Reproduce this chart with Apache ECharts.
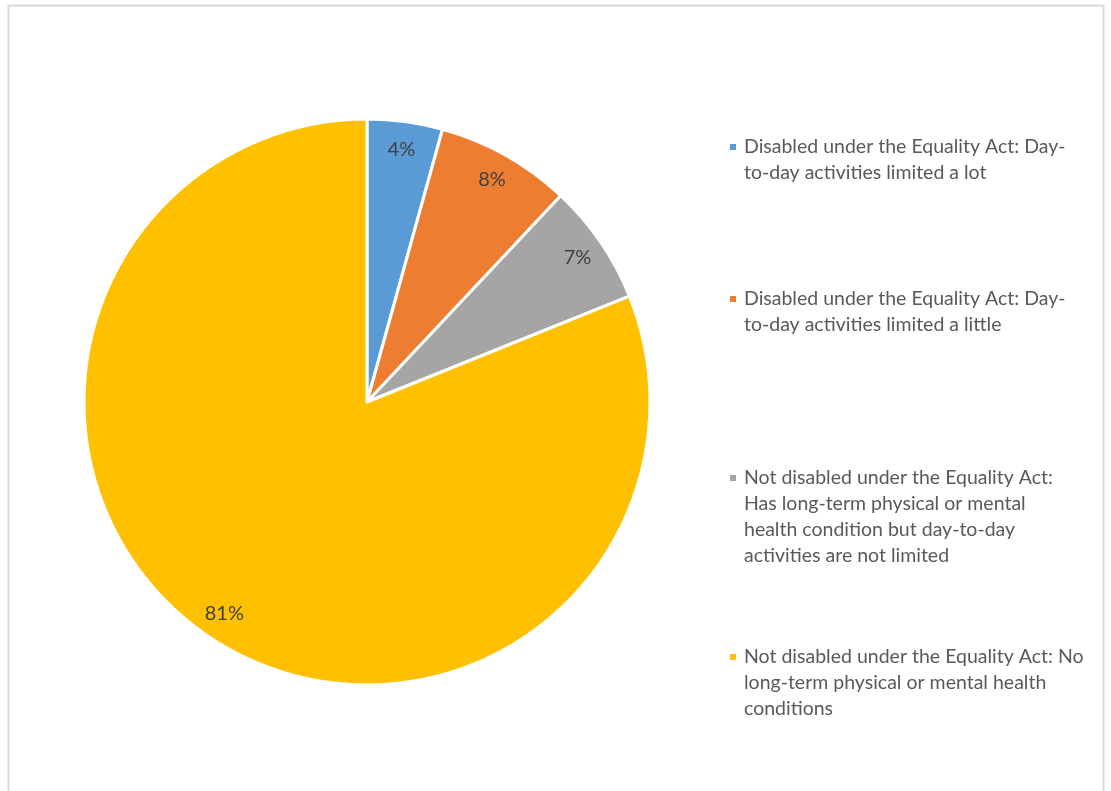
<!DOCTYPE html>
<html><head><meta charset="utf-8">
<script src="https://cdn.jsdelivr.net/npm/echarts@6/dist/echarts.min.js"></script>
<style>html,body{margin:0;padding:0;background:#fff}#c{width:1111px;height:791px}</style>
</head><body><div id="c"></div>
<script>
const categories = [
  'Disabled under the Equality Act: Day-to-day activities limited a lot',
  'Disabled under the Equality Act: Day-to-day activities limited a little',
  'Not disabled under the Equality Act: Has long-term physical or mental health condition but day-to-day activities are not limited',
  'Not disabled under the Equality Act: No long-term physical or mental health conditions'
];
const legendLabels = [
  'Disabled under the Equality Act: Day-\nto-day activities limited a lot',
  'Disabled under the Equality Act: Day-\nto-day activities limited a little',
  'Not disabled under the Equality Act:\nHas long-term physical or mental\nhealth condition but day-to-day\nactivities are not limited',
  'Not disabled under the Equality Act: No\nlong-term physical or mental health\nconditions'
];
const values = [4.3, 7.7, 6.9, 81.1];
const colors = ['#5B9BD5', '#ED7D31', '#A5A5A5', '#FFC000'];

const chart = echarts.init(document.getElementById('c'), null, {renderer: 'canvas'});
const data = categories.map((n, i) => ({name: n, value: values[i], itemStyle: {color: colors[i]}}));
const LH = 26;
const legendTops = [133, 285, 464, 643];
const legends = categories.map((n, i) => {
  const lines = legendLabels[i].split('\n').length;
  const h = lines * LH;
  return {
    data: [n],
    orient: 'vertical',
    left: 728,
    top: legendTops[i],
    padding: 0,
    itemWidth: 10,
    itemHeight: h,
    icon: 'path://M0,0M0,9H8V17H0ZM10,' + h,
    selectedMode: false,
    formatter: () => legendLabels[i],
    textStyle: {fontFamily: 'Lato', fontSize: 19.5, color: '#595959', lineHeight: LH}
  };
});

chart.setOption({
  animation: false,
  legend: legends,
  graphic: [{
    type: 'rect', shape: {x: 8.5, y: 5.5, width: 1095, height: 820},
    style: {fill: 'none', stroke: '#D9D9D9', lineWidth: 2}, silent: true
  }],
  series: [{
    type: 'pie',
    center: [367, 402],
    radius: [0, 283],
    startAngle: 90,
    clockwise: true,
    label: {show: false},
    labelLine: {show: false},
    itemStyle: {borderColor: '#fff', borderWidth: 3},
    emphasis: {disabled: true},
    data: data
  }, {
    type: 'pie',
    center: [367, 402],
    radius: [221, 283],
    startAngle: 90,
    clockwise: true,
    silent: true,
    itemStyle: {color: 'rgba(0,0,0,0)', borderWidth: 0},
    label: {
      show: true, position: 'inside',
      formatter: p => Math.round(p.percent) + '%',
      fontFamily: 'Lato', fontSize: 20, color: '#404040'
    },
    labelLine: {show: false},
    emphasis: {disabled: true},
    data: categories.map((n, i) => ({name: n, value: values[i]}))
  }]
});
</script></body></html>
